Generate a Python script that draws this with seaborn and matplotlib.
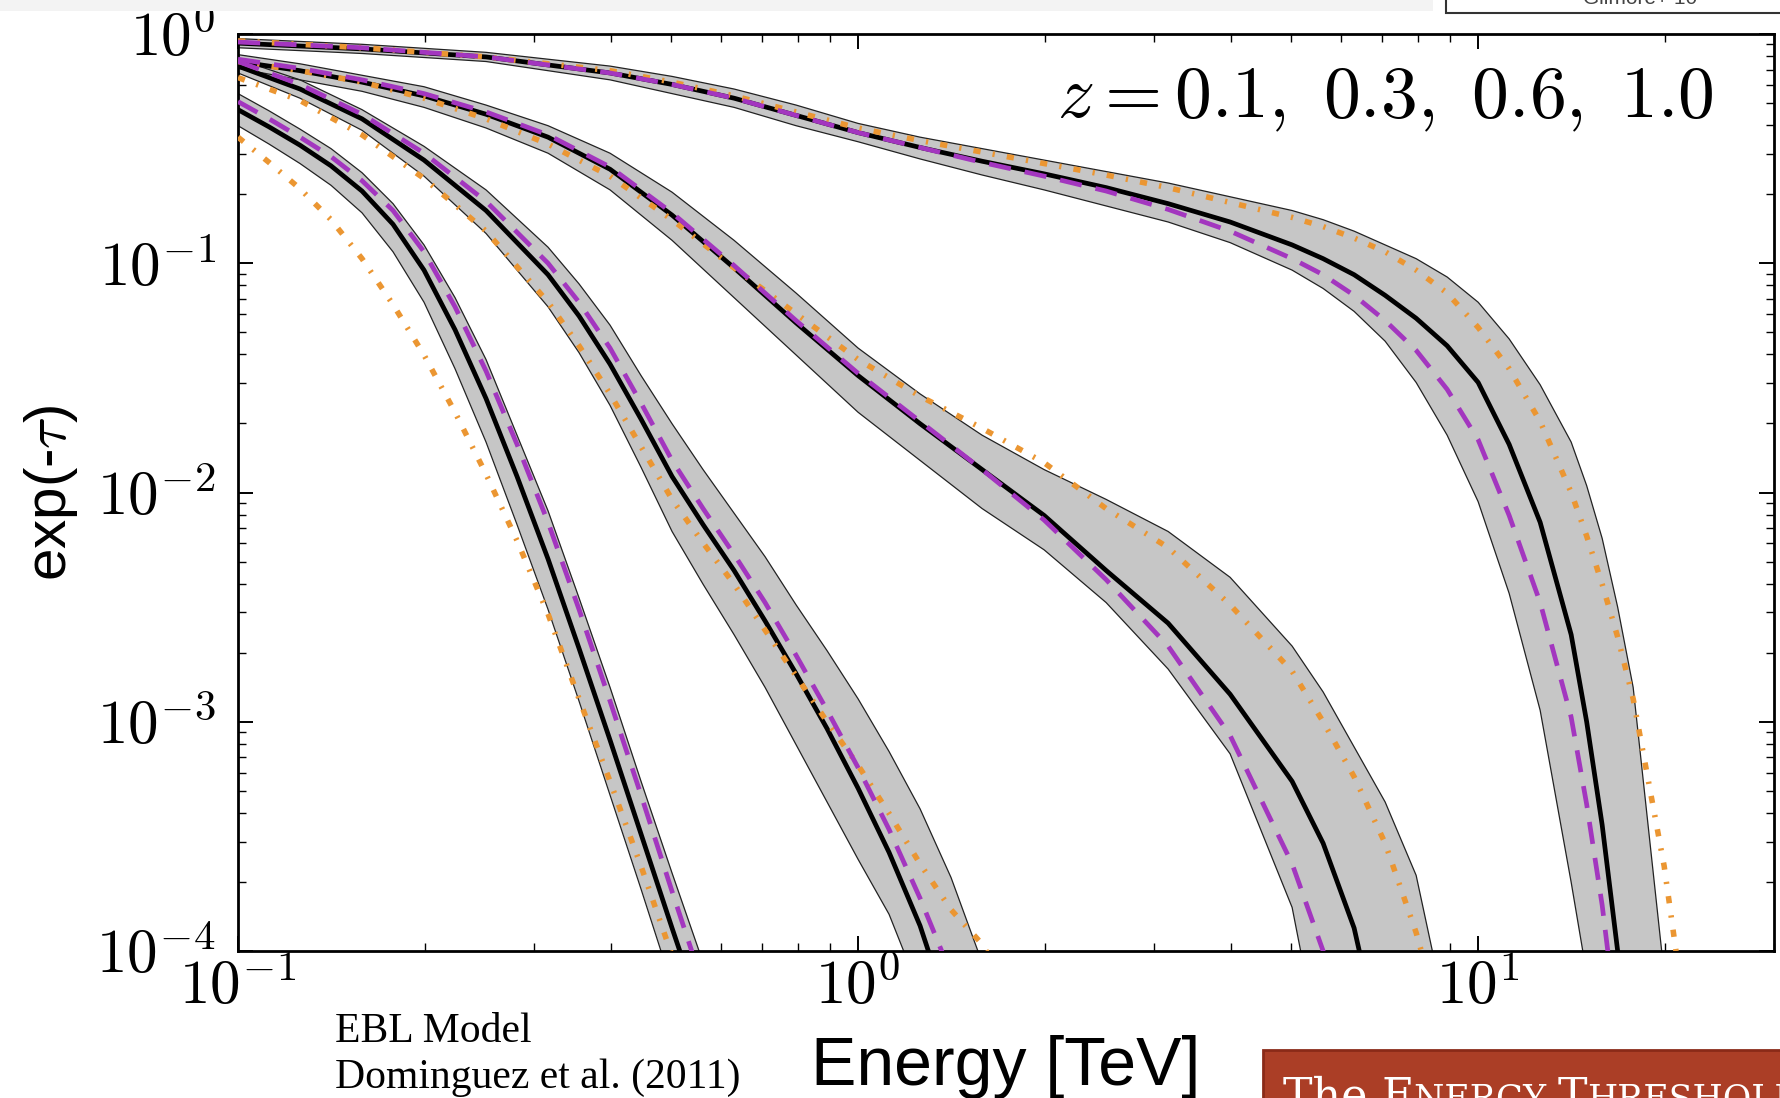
import numpy as np
import matplotlib
matplotlib.use("Agg")
import matplotlib.pyplot as plt
import matplotlib.ticker as mticker
from matplotlib.patches import Rectangle
from matplotlib.offsetbox import TextArea, HPacker, AnnotationBbox
import seaborn as sns

# values: log10(E/TeV) and log10(exp(-tau))
# mid = black line, dom = purple dashed, alt = orange dash-dot, hi/lo = grey band

# z = 0.1
logE_z01 = [-1.0, -0.8, -0.6, -0.4, -0.3, -0.2, -0.1, 0.0, 0.1, 0.2, 0.3, 0.4, 0.5, 0.6, 0.7, 0.75, 0.8, 0.85,
            0.9, 0.95, 1.0, 1.05, 1.1, 1.15, 1.175, 1.2, 1.225, 1.25, 1.3, 1.35]
mid_z01 = [-0.04, -0.065, -0.10, -0.17, -0.22, -0.28, -0.355, -0.43, -0.495, -0.555, -0.61, -0.67, -0.74, -0.82,
           -0.92, -0.98, -1.05, -1.14, -1.24, -1.36, -1.52, -1.79, -2.13, -2.62, -3.0, -3.45, -4.0, -4.6, -5.5, -6.5]
dom_z01 = [-0.035, -0.06, -0.10, -0.17, -0.22, -0.28, -0.355, -0.43, -0.495, -0.56, -0.62, -0.685, -0.765, -0.86,
           -0.98, -1.05, -1.14, -1.25, -1.38, -1.55, -1.77, -2.10, -2.48, -2.98, -3.36, -3.8, -4.35, -5.0, -6.0,
           -7.0]
alt_z01 = [-0.03, -0.06, -0.10, -0.16, -0.21, -0.27, -0.34, -0.41, -0.465, -0.515, -0.565, -0.615, -0.67, -0.735,
           -0.80, -0.84, -0.89, -0.95, -1.03, -1.13, -1.28, -1.46, -1.69, -2.0, -2.19, -2.40, -2.63, -2.90, -3.63,
           -4.6]
hi_z01 = [-0.02, -0.045, -0.08, -0.14, -0.185, -0.24, -0.31, -0.39, -0.45, -0.50, -0.55, -0.60, -0.65, -0.71,
          -0.77, -0.81, -0.86, -0.92, -0.98, -1.06, -1.17, -1.33, -1.53, -1.78, -1.97, -2.2, -2.5, -2.85, -4.1, -5.0]
lo_z01 = [-0.06, -0.085, -0.12, -0.20, -0.26, -0.32, -0.40, -0.47, -0.545, -0.615, -0.68, -0.75, -0.82, -0.91,
          -1.03, -1.11, -1.21, -1.34, -1.52, -1.75, -2.04, -2.44, -2.95, -3.7, -4.1, -4.6, -5.05, -5.5, -6.5, -7.5]

# z = 0.3
logE_z03 = [-1.0, -0.9, -0.8, -0.7, -0.6, -0.5, -0.4, -0.3, -0.2, -0.1, 0.0, 0.1, 0.2, 0.3, 0.4, 0.5, 0.6, 0.7,
            0.75, 0.8, 0.85, 0.9, 0.95, 1.0]
mid_z03 = [-0.12, -0.16, -0.21, -0.27, -0.35, -0.45, -0.59, -0.79, -1.02, -1.26, -1.49, -1.70, -1.90, -2.10,
           -2.34, -2.57, -2.88, -3.26, -3.53, -3.90, -4.5, -5.2, -6.0, -7.0]
dom_z03 = [-0.11, -0.15, -0.20, -0.26, -0.34, -0.44, -0.58, -0.78, -1.01, -1.25, -1.48, -1.69, -1.90, -2.12,
           -2.38, -2.67, -3.06, -3.62, -4.0, -4.5, -5.2, -6.0, -7.0, -8.0]
alt_z03 = [-0.12, -0.16, -0.21, -0.28, -0.37, -0.48, -0.62, -0.81, -1.02, -1.22, -1.42, -1.58, -1.72, -1.87,
           -2.07, -2.24, -2.49, -2.78, -3.0, -3.24, -3.53, -3.92, -4.4, -5.0]
hi_z03 = [-0.09, -0.13, -0.18, -0.23, -0.31, -0.40, -0.52, -0.69, -0.90, -1.13, -1.37, -1.57, -1.75, -1.90,
          -2.03, -2.17, -2.37, -2.67, -2.87, -3.11, -3.35, -3.67, -4.3, -5.0]
lo_z03 = [-0.15, -0.20, -0.25, -0.32, -0.41, -0.52, -0.68, -0.90, -1.15, -1.40, -1.65, -1.86, -2.07, -2.25,
          -2.48, -2.77, -3.14, -3.81, -4.5, -5.2, -6.0, -7.0, -8.0, -9.0]

# z = 0.6
logE_z06 = [-1.0, -0.9, -0.8, -0.7, -0.6, -0.5, -0.45, -0.4, -0.35, -0.3, -0.25, -0.2, -0.15, -0.1, -0.05, 0.0,
            0.05, 0.1, 0.15, 0.2, 0.25]
mid_z06 = [-0.14, -0.24, -0.37, -0.55, -0.77, -1.05, -1.23, -1.44, -1.68, -1.93, -2.14, -2.34, -2.56, -2.79,
           -3.03, -3.29, -3.57, -3.89, -4.3, -4.8, -5.3]
dom_z06 = [-0.12, -0.22, -0.35, -0.52, -0.73, -1.00, -1.17, -1.37, -1.61, -1.86, -2.07, -2.27, -2.48, -2.71,
           -2.95, -3.20, -3.47, -3.77, -4.1, -4.5, -5.0]
alt_z06 = [-0.19, -0.29, -0.44, -0.63, -0.86, -1.17, -1.36, -1.57, -1.80, -2.03, -2.22, -2.40, -2.60, -2.80,
           -3.0, -3.19, -3.40, -3.62, -3.82, -3.97, -4.2]
hi_z06 = [-0.11, -0.20, -0.33, -0.49, -0.68, -0.93, -1.09, -1.27, -1.49, -1.70, -1.90, -2.09, -2.28, -2.49,
          -2.69, -2.90, -3.13, -3.38, -3.68, -4.05, -4.5]
lo_z06 = [-0.17, -0.28, -0.42, -0.62, -0.87, -1.19, -1.39, -1.62, -1.89, -2.17, -2.40, -2.62, -2.85, -3.10,
          -3.35, -3.60, -3.84, -4.18, -4.7, -5.1, -5.6]

# z = 1.0
logE_z10 = [-1.0, -0.95, -0.9, -0.85, -0.8, -0.75, -0.7, -0.65, -0.6, -0.55, -0.5, -0.45, -0.4, -0.35, -0.3,
            -0.25, -0.2]
mid_z10 = [-0.33, -0.405, -0.485, -0.575, -0.685, -0.83, -1.03, -1.29, -1.59, -1.93, -2.29, -2.68, -3.08, -3.49,
           -3.90, -4.3, -4.7]
dom_z10 = [-0.295, -0.37, -0.45, -0.535, -0.64, -0.77, -0.95, -1.19, -1.47, -1.79, -2.13, -2.51, -2.91, -3.32,
           -3.74, -4.15, -4.6]
alt_z10 = [-0.45, -0.56, -0.675, -0.81, -0.98, -1.18, -1.40, -1.65, -1.92, -2.21, -2.53, -2.90, -3.26, -3.63,
           -4.02, -4.4, -4.8]
hi_z10 = [-0.26, -0.335, -0.415, -0.50, -0.605, -0.74, -0.92, -1.15, -1.42, -1.75, -2.08, -2.46, -2.85, -3.26,
          -3.66, -4.05, -4.5]
lo_z10 = [-0.40, -0.48, -0.565, -0.66, -0.78, -0.95, -1.17, -1.46, -1.78, -2.14, -2.51, -2.91, -3.32, -3.73,
          -4.15, -4.55, -5.0]

redshift_text = r"$z = 0.1,\ 0.3,\ 0.6,\ 1.0$"
title_parts = [("The ", "big"), ("E", "big"), ("NERGY ", "small"), ("T", "big"), ("HRESHOLD", "small")]

band_grey = "#c6c6c6"
purple = "#a336bf"
orange = "#eb9632"

sns.set_theme(style="white")
plt.rcParams["font.family"] = ["Liberation Sans", "DejaVu Sans"]
plt.rcParams["mathtext.fontset"] = "cm"

W, H = 1780, 1098
fig = plt.figure(figsize=(W / 100, H / 100), dpi=100)
fig.patch.set_facecolor("white")
ax = fig.add_axes([238 / W, 1 - 951 / H, (1774 - 238) / W, (951 - 34) / H])
ax.set_xscale("log")
ax.set_yscale("log")

curves = [
    (logE_z01, mid_z01, dom_z01, alt_z01, hi_z01, lo_z01),
    (logE_z03, mid_z03, dom_z03, alt_z03, hi_z03, lo_z03),
    (logE_z06, mid_z06, dom_z06, alt_z06, hi_z06, lo_z06),
    (logE_z10, mid_z10, dom_z10, alt_z10, hi_z10, lo_z10),
]

for logE, mid, dom, alt, hi, lo in curves:
    E = 10 ** np.array(logE)
    ax.fill_between(E, 10 ** np.array(lo), 10 ** np.array(hi), color=band_grey, lw=0, zorder=1)
    for edge in (hi, lo):
        sns.lineplot(x=E, y=10 ** np.array(edge), ax=ax, color="#222222", lw=0.9, zorder=2)
    sns.lineplot(x=E, y=10 ** np.array(mid), ax=ax, color="black", lw=3.4, zorder=3)
    sns.lineplot(x=E, y=10 ** np.array(alt), ax=ax, color=orange, lw=4.0,
                 linestyle=(0, (1.3, 2.2, 0.4, 2.2)), zorder=4)
    sns.lineplot(x=E, y=10 ** np.array(dom), ax=ax, color=purple, lw=3.4,
                 linestyle=(0, (4.7, 3.0)), zorder=5)

ax.set_xlim(0.1, 30)
ax.set_ylim(1e-4, 1)

fmt = mticker.FuncFormatter(lambda v, p: r"$10^{%d}$" % int(round(np.log10(v))))
ax.xaxis.set_major_formatter(fmt)
ax.yaxis.set_major_formatter(fmt)
ax.xaxis.set_minor_formatter(mticker.NullFormatter())
ax.yaxis.set_minor_formatter(mticker.NullFormatter())
ax.tick_params(which="both", direction="in", top=True, bottom=True, left=True, right=True, colors="black")
ax.tick_params(which="major", length=11, width=1.4, labelsize=44)
ax.tick_params(which="minor", length=6, width=1.0)
ax.tick_params(axis="y", which="major", pad=16)
ax.tick_params(axis="x", which="major", pad=6)
for s in ax.spines.values():
    s.set_color("black")
    s.set_linewidth(2.0)

ax.set_xlabel("Energy [TeV]", fontsize=49, color="black")
ax.set_ylabel(r"exp(-$\tau$)", fontsize=42, color="black")
ax.xaxis.set_label_coords(0.5, -0.092)
ax.yaxis.set_label_coords(-0.103, 0.5)

ax.text(0.961, 0.9095, redshift_text, transform=ax.transAxes, fontsize=53,
        ha="right", va="baseline", color="black")

# slide decorations around the chart
fig.patches.append(Rectangle((0, 1 - 11 / H), 1433 / W, 11 / H, transform=fig.transFigure,
                             facecolor="#f3f3f3", edgecolor="none", zorder=0))
fig.patches.append(Rectangle((1446 / W, 1 - 13 / H), 400 / W, 30 / H, transform=fig.transFigure,
                             facecolor="white", edgecolor="#333333", lw=1.5, zorder=0))
fig.text(1640 / W, 1 - 4 / H, "Gilmore+ 10", fontsize=15, color="#444444", ha="center", va="baseline")

fig.patches.append(Rectangle((1263 / W, -10 / H), 600 / W, (48 + 10) / H, transform=fig.transFigure,
                             facecolor="#ab3e26", edgecolor="#8a2a18", lw=2.0, zorder=0))
sizes = {"big": 32, "small": 25}
areas = [TextArea(t, textprops=dict(fontsize=sizes[k], color="white", family="DejaVu Serif"))
         for t, k in title_parts]
pack = HPacker(children=areas, align="baseline", pad=0, sep=0)
fig.add_artist(AnnotationBbox(pack, (1283, -21), xycoords="figure pixels", box_alignment=(0, 0),
                              frameon=False, annotation_clip=False))

serif = ["Liberation Serif", "DejaVu Serif"]
fig.text(335 / W, 1 - 1042 / H, "EBL Model", fontsize=30, family=serif, color="black", va="baseline")
fig.text(335 / W, 1 - 1088 / H, "Dominguez et al. (2011)", fontsize=30, family=serif, color="black",
         va="baseline")

fig.savefig("out.png", dpi=100)
